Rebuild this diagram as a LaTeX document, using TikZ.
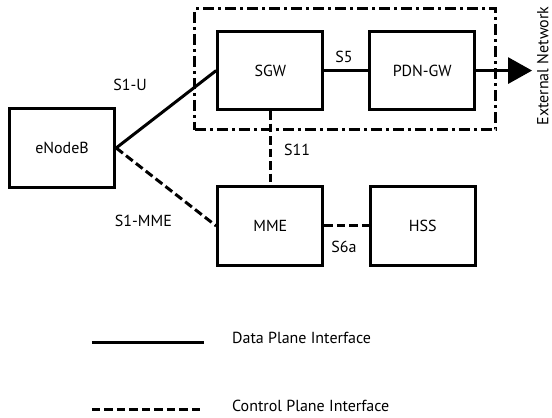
\documentclass[tikz,border=0pt]{standalone}
\usepackage{fontspec}
\setmainfont{PT Sans}
\usepackage{tikz}
\usetikzlibrary{arrows.meta,positioning,shapes,calc}

\begin{document}
\begin{tikzpicture}[font=\fontsize{16}{19}\selectfont]
\tikzset{el/.style={draw, rectangle, line width=3pt, minimum width = 3.7cm, minimum height=2.75cm}}
\tikzset{data/.style={line width=3pt}}
\tikzset{ctrl/.style={line width=3pt, dash pattern=on 8.5pt off 4pt}}
\tikzset{lbl/.style={inner sep=0pt}}

\useasboundingbox (0,0) rectangle (19.40,-14.69);

% Core network border
\node[rectangle, draw, line width=3pt, dash pattern=on 11pt off 4pt on 3pt off 4pt,
 minimum width=10.58cm, minimum height=4.25cm] (core) at (12.14,-2.44) {};

% Network elements
\node[el] (enb) at (2.18,-5.2) {eNodeB};
\node[el] (sgw) at (9.5,-2.48) {SGW};
\node[el] (pgw) at (14.84,-2.48) {PDN-GW};
\node[el] (mme) at (9.5,-7.94) {MME};
\node[el] (hss) at (14.86,-7.94) {HSS};

\coordinate (ext) at (18.70,-2.48);
\node[lbl, rotate=90, anchor=base] (extnet) at (19.27,-2.32) {External Network};

% Interface labels
\node[lbl] (s1u) at (4.57,-2.99) {S1-U};
\node[lbl] (s1mme) at (5.04,-7.77) {S1-MME};
\node[lbl] (s11) at (10.44,-5.27) {S11};
\node[lbl] (s5) at (12.09,-2.0) {S5};
\node[lbl] (s6a) at (12.09,-8.68) {S6a};

% Connections
\draw[data] (enb.east) -- (sgw.west);
\draw[ctrl] (enb.east) -- (mme.west);
\draw[ctrl] (sgw) -- (mme);
\draw[data] (sgw) -- (pgw);
\draw[ctrl] (mme) -- (hss);
\draw[data, -{Triangle[length=24pt, width=26pt]}] (pgw) -- (ext);

% Legend
\coordinate (dataa) at (3.23,-12.02);
\coordinate (datab) at (7.17,-12.02);
\coordinate (ctrla) at (3.23,-14.375);
\coordinate (ctrlb) at (7.17,-14.375);
\node[lbl, anchor=west] (datatxt) at (8.15,-11.88) {Data Plane Interface};
\node[lbl, anchor=west] (ctrltxt) at (8.15,-14.27) {Control Plane Interface};

\draw[data] (dataa) -- (datab);
\draw[ctrl] (ctrla) -- (ctrlb);

\end{tikzpicture}
\end{document}
